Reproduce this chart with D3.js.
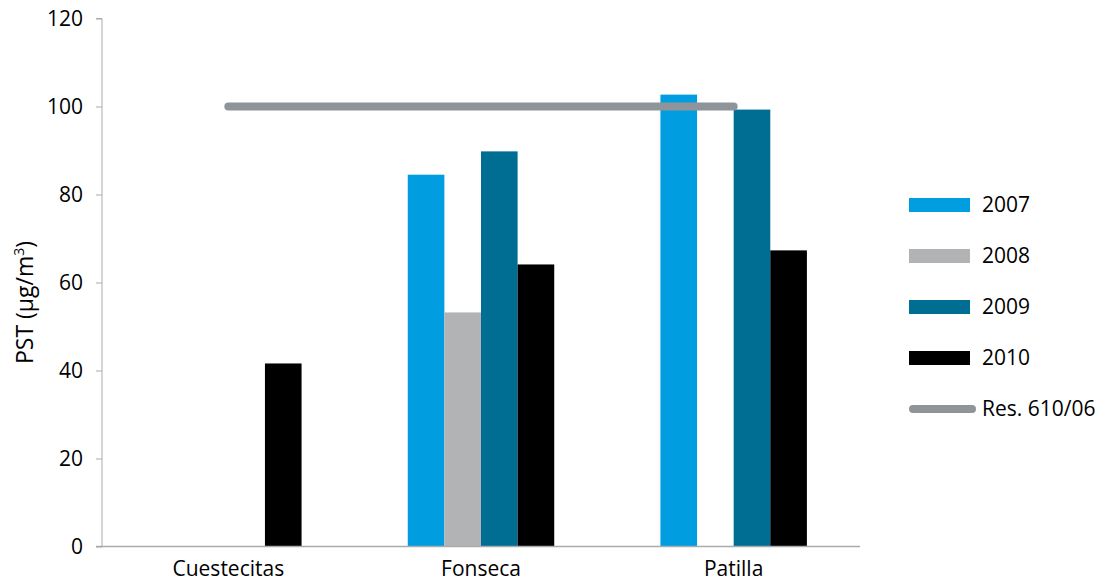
<!DOCTYPE html>
<html>
<head>
<meta charset="utf-8">
<script src="https://cdn.jsdelivr.net/npm/d3@7"></script>
<style>
  html, body { margin: 0; padding: 0; background: #fff; }
  svg { display: block; }
  text { font-family: "Open Sans", "Noto Sans", sans-serif; fill: #000; }
</style>
</head>
<body>
<svg id="chart" width="1098" height="586"></svg>
<script>
const categories = ["Cuestecitas", "Fonseca", "Patilla"];
const seriesNames = ["2007", "2008", "2009", "2010"];
const values2007 = [null, 84.5, 102.7];
const values2008 = [null, 53.2, null];
const values2009 = [null, 89.8, 99.3];
const values2010 = [41.6, 64.1, 67.3];
const limitName = "Res. 610/06";
const limitValue = 100;
const yTicks = [0, 20, 40, 60, 80, 100, 120];
const seriesColors = ["#009ee0", "#b2b3b5", "#006e92", "#000000"];
const limitColor = "#8e949a";

const seriesValues = [values2007, values2008, values2009, values2010];

const svg = d3.select("#chart");
const plot = { left: 102, right: 860, top: 18.5, bottom: 546.5 };
const FS = "21px";

const y = d3.scaleLinear().domain([0, 120]).range([plot.bottom, plot.top]);
const x0 = d3.scaleBand().domain(categories).range([plot.left, plot.right]).paddingInner(0).paddingOuter(0);
const x1 = d3.scaleBand().domain(seriesNames).range([0, x0.bandwidth()]).paddingInner(0).paddingOuter(1.45);

// Bars
const groups = svg.append("g").selectAll("g")
  .data(categories)
  .join("g")
  .attr("transform", d => `translate(${x0(d)},0)`);

groups.selectAll("rect")
  .data((c, ci) => seriesNames.map((s, si) => ({ s, si, v: seriesValues[si][ci] })).filter(d => d.v != null))
  .join("rect")
  .attr("x", d => x1(d.s))
  .attr("width", x1.bandwidth())
  .attr("y", d => y(d.v))
  .attr("height", d => y(0) - y(d.v))
  .attr("fill", d => seriesColors[d.si]);

// Y axis
const yAxis = d3.axisLeft(y).tickValues(yTicks).tickSize(6).tickPadding(13).tickFormat(d3.format("d"));
const gy = svg.append("g").attr("transform", `translate(${plot.left},0)`).call(yAxis);
gy.select(".domain").attr("stroke", "#a7abaf").attr("stroke-width", 1).attr("d", `M-6,${plot.top}H0V${plot.bottom}`);
gy.selectAll(".tick line").attr("stroke", "#a7abaf");
gy.selectAll(".tick text").style("font-size", FS).style("font-family", "'Open Sans', sans-serif").attr("fill", "#000");

// X axis baseline
const xAxis = d3.axisBottom(x0).tickSize(0).tickPadding(15);
const gx = svg.append("g").attr("transform", `translate(0,${plot.bottom})`).call(xAxis);
gx.select(".domain").attr("stroke", "#a7abaf").attr("stroke-width", 1.5).attr("d", `M${plot.left - 6},0H${plot.right}`);
gx.selectAll(".tick text").style("font-size", FS).style("font-family", "'Open Sans', sans-serif").attr("fill", "#000");

// Limit line
const lineData = categories.map(c => ({ c, v: limitValue }));
const line = d3.line().x(d => x0(d.c) + x0.bandwidth() / 2).y(d => y(d.v));
svg.append("path")
  .datum(lineData)
  .attr("d", line)
  .attr("fill", "none")
  .attr("stroke", limitColor)
  .attr("stroke-width", 8)
  .attr("stroke-linecap", "round");

// Y axis title
svg.append("text")
  .attr("transform", `translate(33,${(plot.top + plot.bottom) / 2 + 20}) rotate(-90)`)
  .attr("text-anchor", "middle")
  .style("font-size", "23px")
  .html('PST (µg/m<tspan dy="-9" style="font-size:14px">3</tspan><tspan dy="9">)</tspan>');

// Legend
const legend = svg.append("g").attr("transform", "translate(909,205)");
const legendRows = seriesNames.concat([limitName]);
const rows = legend.selectAll("g").data(legendRows).join("g")
  .attr("transform", (d, i) => `translate(0,${i * 51})`);
rows.each(function (d, i) {
  const g = d3.select(this);
  if (i < seriesNames.length) {
    g.append("rect").attr("x", 0).attr("y", -7).attr("width", 61).attr("height", 14).attr("fill", seriesColors[i]);
  } else {
    g.append("line").attr("x1", 4).attr("x2", 63).attr("y1", 0).attr("y2", 0)
      .attr("stroke", limitColor).attr("stroke-width", 8).attr("stroke-linecap", "round");
  }
  g.append("text").attr("x", 73).attr("y", 0).attr("dy", "0.35em").style("font-size", FS).text(d);
});
</script>
</body>
</html>
